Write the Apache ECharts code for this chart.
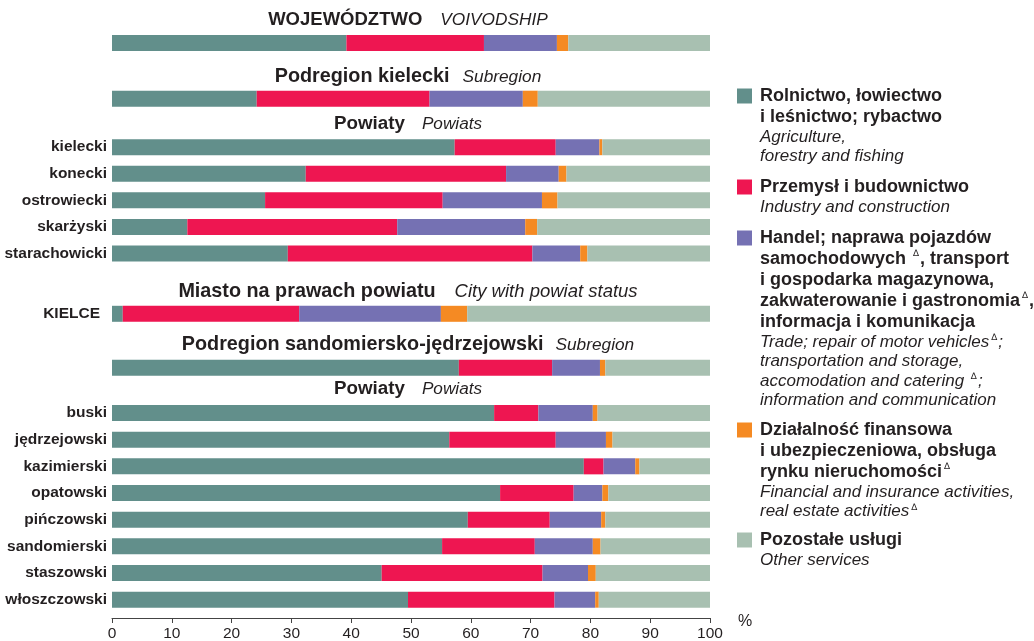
<!DOCTYPE html>
<html>
<head>
<meta charset="utf-8">
<script src="https://cdn.jsdelivr.net/npm/echarts@6/dist/echarts.min.js"></script>
<style>html,body{margin:0;padding:0;background:#fff}#c{width:1034px;height:641px}</style>
</head>
<body>
<div id="c"></div>
<script>
// ---- data ----
const categories = ['WOJEWÓDZTWO', 'Podregion kielecki', 'kielecki', 'konecki', 'ostrowiecki', 'skarżyski', 'starachowicki', 'KIELCE', 'Podregion sandomiersko-jędrzejowski', 'buski', 'jędrzejowski', 'kazimierski', 'opatowski', 'pińczowski', 'sandomierski', 'staszowski', 'włoszczowski'];
const agriculture = [39.2, 24.2, 57.3, 32.4, 25.6, 12.6, 29.4, 1.8, 58.0, 63.9, 56.4, 78.9, 64.9, 59.5, 55.2, 45.1, 49.5];
const industry    = [23.0, 28.9, 16.9, 33.5, 29.7, 35.1, 40.9, 29.5, 15.6, 7.4, 17.8, 3.3, 12.3, 13.7, 15.5, 26.9, 24.5];
const trade       = [12.2, 15.6, 7.3, 8.8, 16.6, 21.4, 8.0, 23.7, 8.0, 9.1, 8.4, 5.3, 4.8, 8.6, 9.7, 7.6, 6.8];
const finance     = [1.9, 2.5, 0.5, 1.3, 2.6, 2.0, 1.2, 4.4, 0.9, 0.8, 1.1, 0.7, 1.0, 0.7, 1.3, 1.3, 0.6];
const other       = [23.7, 28.8, 18.0, 24.0, 25.5, 28.9, 20.5, 40.6, 17.5, 18.8, 16.3, 11.8, 17.0, 17.5, 18.3, 19.1, 18.6];
const xTicks = [0, 10, 20, 30, 40, 50, 60, 70, 80, 90, 100];
const unitLabel = '%';
const headers = [
  ['WOJEWÓDZTWO', 'VOIVODSHIP'],
  ['Podregion kielecki', 'Subregion'],
  ['Powiaty', 'Powiats'],
  ['Miasto na prawach powiatu', 'City with powiat status'],
  ['Podregion sandomiersko-jędrzejowski', 'Subregion'],
  ['Powiaty', 'Powiats']
];
// '∆' marks a superscript delta
const legendPl = [
  ['Rolnictwo, łowiectwo', 'i leśnictwo; rybactwo'],
  ['Przemysł i budownictwo'],
  ['Handel; naprawa pojazdów', 'samochodowych ∆, transport', 'i gospodarka magazynowa,', 'zakwaterowanie i gastronomia∆,', 'informacja i komunikacja'],
  ['Działalność finansowa', 'i ubezpieczeniowa, obsługa', 'rynku nieruchomości∆'],
  ['Pozostałe usługi']
];
const legendEn = [
  ['Agriculture,', 'forestry and fishing'],
  ['Industry and construction'],
  ['Trade; repair of motor vehicles∆;', 'transportation and storage,', 'accomodation and catering ∆;', 'information and communication'],
  ['Financial and insurance activities,', 'real estate activities∆'],
  ['Other services']
];

// ---- layout / style ----
const colors = ['#628F8B', '#EE1651', '#7571B3', '#F58A23', '#A8C0B1'];
const seriesData = [agriculture, industry, trade, finance, other];
const TXT = '#231F20';
const FONT = 'Liberation Sans, Arial, sans-serif';
const groups = [
  { from: 0, to: 1, top: 30, height: 26, labels: false, margin: 5, headerY: 20, hb: 18.5, hi: 17.3, gap: 18 },
  { from: 1, to: 2, top: 85.7, height: 26, labels: false, margin: 5, headerY: 77, hb: 19.8, hi: 17.3, gap: 13 },
  { from: 2, to: 7, top: 133.9, height: 132.9, labels: true, margin: 5, headerY: 124, hb: 18.8, hi: 17.2, gap: 17 },
  { from: 7, to: 8, top: 300.8, height: 26, labels: true, margin: 12, headerY: 292, hb: 19.8, hi: 18.5, gap: 19 },
  { from: 8, to: 9, top: 354.8, height: 26, labels: false, margin: 5, headerY: 345, hb: 19.8, hi: 17.3, gap: 12 },
  { from: 9, to: 17, top: 399.7, height: 213.3, labels: true, margin: 5, headerY: 389, hb: 18.8, hi: 17.2, gap: 17 }
];
const LEFT = 112, RIGHT = 324;

const grid = [], xAxis = [], yAxis = [], series = [];
groups.forEach((g, gi) => {
  const last = gi === groups.length - 1;
  grid.push({ left: LEFT, right: RIGHT, top: g.top, height: g.height, containLabel: false, outerBoundsMode: 'none' });
  xAxis.push({
    type: 'value', gridIndex: gi, min: 0, max: 100, interval: 10, show: last,
    offset: last ? 5 : 0,
    splitLine: { show: false },
    axisLine: { show: true, lineStyle: { color: '#444', width: 1 } },
    axisTick: { show: true, length: 5, lineStyle: { color: '#444' } },
    axisLabel: { show: true, margin: 8, color: TXT, fontSize: 15.5, fontFamily: FONT,
      formatter: v => xTicks.includes(v) ? String(v) : '' }
  });
  yAxis.push({
    type: 'category', gridIndex: gi, inverse: true,
    data: categories.slice(g.from, g.to),
    axisLine: { show: false }, axisTick: { show: false }, splitLine: { show: false },
    axisLabel: { show: g.labels, margin: g.margin, color: TXT, fontSize: 15.5, fontWeight: 'bold', fontFamily: FONT }
  });
  seriesData.forEach((arr, si) => {
    series.push({
      type: 'bar', xAxisIndex: gi, yAxisIndex: gi, stack: 'g' + gi,
      barWidth: 16, silent: true,
      itemStyle: { color: colors[si] },
      data: arr.slice(g.from, g.to)
    });
  });
});

const graphic = [];
groups.forEach((g, gi) => {
  const h = headers[gi];
  graphic.push({
    type: 'text', x: 408, y: g.headerY, silent: true,
    style: {
      text: '{b|' + h[0] + '}{i|' + h[1] + '}',
      rich: {
        b: { fontFamily: FONT, fontWeight: 'bold', fontSize: g.hb, fill: TXT },
        i: { fontFamily: FONT, fontStyle: 'italic', fontSize: g.hi, fill: TXT, padding: [0, 0, 0, g.gap] }
      },
      align: 'center', verticalAlign: 'middle'
    }
  });
});
graphic.push({
  type: 'text', x: 738, y: 622, silent: true,
  style: { text: unitLabel, font: '16px ' + FONT, fill: TXT, align: 'left', verticalAlign: 'middle' }
});

const legRich = {
  b: { fontFamily: FONT, fontWeight: 'bold', fontSize: 18, lineHeight: 21, fill: TXT },
  i: { fontFamily: FONT, fontStyle: 'italic', fontSize: 17, lineHeight: 19.5, fill: TXT },
  s: { fontFamily: 'DejaVu Sans, ' + FONT, fontSize: 9, verticalAlign: 'top', fill: TXT, padding: [1, 1, 0, 2] }
};
function richLine(line, tag) {
  return line.split('∆').map(p => p ? '{' + tag + '|' + p + '}' : '').join('{s|∆}');
}
const legTops = [85.5, 176.5, 227.5, 419.5, 529.5];
legTops.forEach((t, k) => {
  graphic.push({ type: 'rect', silent: true, shape: { x: 737, y: t + 3, width: 15, height: 15 }, style: { fill: colors[k] } });
  const lines = legendPl[k].map(l => richLine(l, 'b')).concat(legendEn[k].map(l => richLine(l, 'i')));
  graphic.push({
    type: 'text', x: 760, y: t, silent: true,
    style: { text: lines.join('\n'), rich: legRich, align: 'left', verticalAlign: 'top' }
  });
});

const chart = echarts.init(document.getElementById('c'), null, { renderer: 'canvas' });
chart.setOption({
  animation: false,
  backgroundColor: '#fff',
  grid, xAxis, yAxis, series, graphic
});
</script>
</body>
</html>
